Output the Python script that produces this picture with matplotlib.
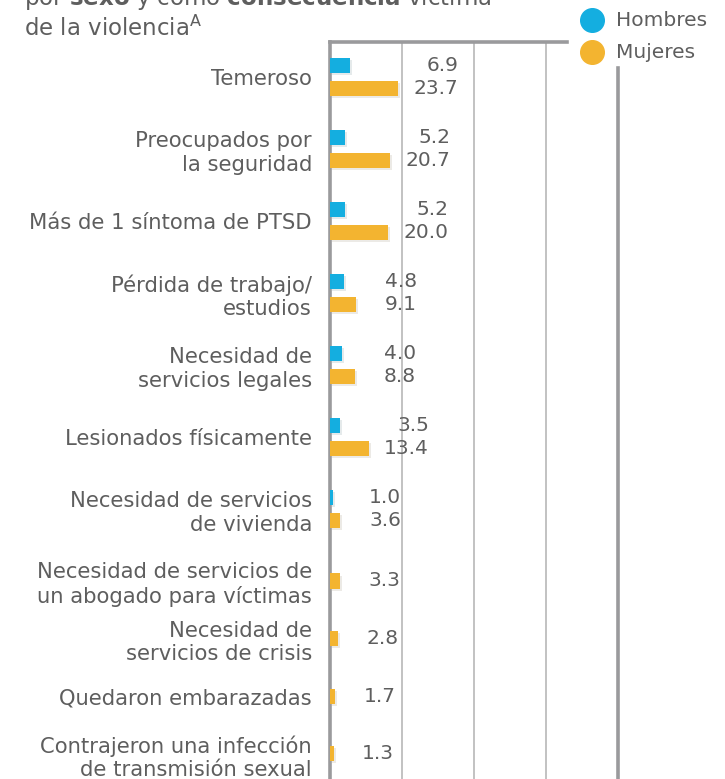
import matplotlib
matplotlib.use('Agg')
import matplotlib.pyplot as plt
import matplotlib.patheffects as pe
from matplotlib.lines import Line2D

plt.rcParams['font.family'] = ['DejaVu Sans']
plt.rcParams['mathtext.fontset'] = 'custom'
plt.rcParams['mathtext.rm'] = 'DejaVu Sans'
plt.rcParams['mathtext.bf'] = 'DejaVu Sans:bold'

categories = ['Temeroso', 'Preocupados por\nla seguridad', 'Más de 1 síntoma de PTSD',
              'Pérdida de trabajo/\nestudios', 'Necesidad de\nservicios legales',
              'Lesionados físicamente', 'Necesidad de servicios\nde vivienda',
              'Necesidad de servicios de\nun abogado para víctimas',
              'Necesidad de\nservicios de crisis', 'Quedaron embarazadas',
              'Contrajeron una infección\nde transmisión sexual']
hombres = [6.9, 5.2, 5.2, 4.8, 4.0, 3.5, 1.0, None, None, None, None]
mujeres = [23.7, 20.7, 20.0, 9.1, 8.8, 13.4, 3.6, 3.3, 2.8, 1.7, 1.3]
series_names = ['Hombres', 'Mujeres']
series_colors = ['#14aee0', '#f3b430']
grid_ticks = [25, 50, 75]

text_col = '#5e5e5e'
line_col = '#9a9a9c'
fs = 14.5

W, H = 725, 779
fig = plt.figure(figsize=(W / 100, H / 100), dpi=100)
ax = fig.add_axes([330 / W, 0, 288 / W, 1 - 42 / H])

# group centres: tighter spacing after a group with one bar
pos = [0.0]
for i in range(1, len(categories)):
    pos.append(pos[-1] + (1.0 if hombres[i - 1] is not None else 0.8))

off, bh = 0.163, 0.21
shadow = [pe.SimplePatchShadow(offset=(1.5, -1.5), alpha=0.1), pe.Normal()]
for i, y in enumerate(pos):
    h, m = hombres[i], mujeres[i]
    if h is not None:
        yb, ym = y - off, y + off
        b = ax.barh(yb, h, height=bh, color=series_colors[0], zorder=3)
        b[0].set_path_effects(shadow)
    else:
        yb, ym = None, y
    b = ax.barh(ym, m, height=bh, color=series_colors[1], zorder=3)
    b[0].set_path_effects(shadow)
    xr = max(v for v in (h, m) if v is not None) + 21
    if h is not None:
        ax.text(xr, yb, f'{h:.1f}', ha='right', va='center', fontsize=fs, color=text_col)
    ax.text(xr, ym, f'{m:.1f}', ha='right', va='center', fontsize=fs, color=text_col)

ax.set_xlim(0, 100)
ax.set_ylim(9.75, -35 / 72)
ax.set_xticks(grid_ticks)
ax.xaxis.grid(True, color='#bdbdbd', lw=1.3, zorder=0)
ax.tick_params(axis='x', length=0, labelbottom=False)
ax.set_yticks(pos)
ax.set_yticklabels(categories, fontsize=15.2, color=text_col, linespacing=1.22)
ax.tick_params(axis='y', length=0, pad=13)

ax.spines['bottom'].set_visible(False)
for s in ['left', 'top', 'right']:
    ax.spines[s].set_color(line_col)
    ax.spines[s].set_linewidth(2.6)
ax.spines['top'].set_bounds(0, 82.3)
ax.spines['right'].set_bounds(-9 / 72, 9.75)

# title (first line partly cut off at the top)
fig.text(24 / W, 1 - 5 / H, r'por $\bf{sexo}$ y como $\bf{consecuencia}$ víctima',
         fontsize=16.5, color=text_col, va='baseline', ha='left')
fig.text(24 / W, 1 - 36 / H, r'de la violencia$^{\mathrm{A}}$',
         fontsize=16.5, color=text_col, va='baseline', ha='left')

# legend
for k, (name, col) in enumerate(zip(series_names, series_colors)):
    yy = 1 - (20 + 32 * k) / H
    fig.add_artist(Line2D([592 / W], [yy], marker='o', markersize=17, color=col,
                          linestyle='none', transform=fig.transFigure))
    fig.text(616 / W, yy, name, fontsize=fs, color=text_col, va='center', ha='left')

fig.savefig('out.png', dpi=100)
